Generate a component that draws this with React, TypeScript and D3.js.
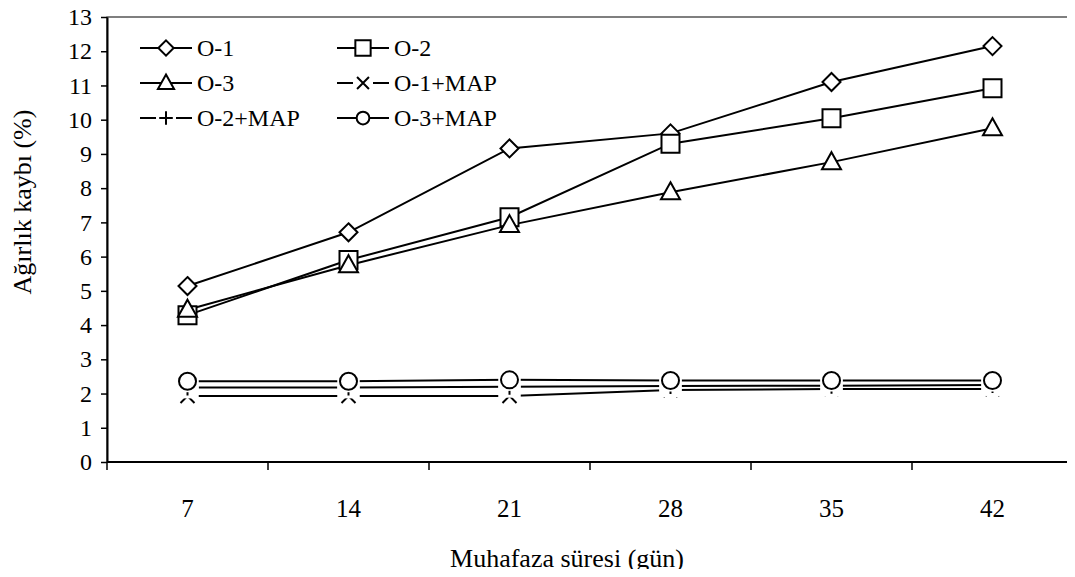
import * as d3 from 'd3';
import React, { useEffect, useRef } from 'react';

const days = ['7', '14', '21', '28', '35', '42'];
const yTicks = [0, 1, 2, 3, 4, 5, 6, 7, 8, 9, 10, 11, 12, 13];

const o1 = [5.14, 6.71, 9.16, 9.6, 11.1, 12.15];
const o2 = [4.29, 5.9, 7.15, 9.3, 10.04, 10.92];
const o3 = [4.45, 5.75, 6.92, 7.88, 8.76, 9.75];
const o1Map = [1.93, 1.93, 1.93, 2.1, 2.13, 2.13];
const o2Map = [2.18, 2.18, 2.2, 2.22, 2.23, 2.25];
const o3Map = [2.36, 2.36, 2.4, 2.38, 2.38, 2.38];

const seriesNames = ['O-1', 'O-2', 'O-3', 'O-1+MAP', 'O-2+MAP', 'O-3+MAP'];
const seriesValues = [o1, o2, o3, o1Map, o2Map, o3Map];
const seriesMarkers = ['diamond', 'square', 'triangle', 'cross', 'plus', 'circle'];

const font = "'Liberation Serif', 'Times New Roman', 'DejaVu Serif', serif";

const markerPath = (type: string) => {
  switch (type) {
    case 'diamond':
      return 'M0,-9L9,0L0,9L-9,0Z';
    case 'square':
      return 'M-9,-9H9V9H-9Z';
    case 'triangle':
      return 'M0,-10L9.5,7L-9.5,7Z';
    case 'cross':
      return 'M-7,-7L7,7M7,-7L-7,7';
    case 'plus':
      return 'M-8,0H8M0,-8V8';
    default:
      return 'M8.5,0A8.5,8.5,0,1,1,-8.5,0A8.5,8.5,0,1,1,8.5,0Z';
  }
};

const Chart = ({ width, height }: { width: number; height: number }) => {
  const svgRef = useRef(null);

  useEffect(() => {
    const svg = d3.select(svgRef.current);
    svg.selectAll('*').remove();

    const left = 107;
    const right = 1073;
    const top = 17;
    const bottom = 462;

    const x = d3.scaleBand().domain(days).range([left, right]).padding(0);
    const y = d3.scaleLinear().domain([0, 13]).range([bottom, top]);

    // thin frame round the plot area
    svg
      .append('rect')
      .attr('x', left)
      .attr('y', top)
      .attr('width', right - left)
      .attr('height', bottom - top)
      .attr('fill', 'none')
      .attr('stroke', '#000')
      .attr('stroke-width', 1);

    // y axis
    const yAxis = svg
      .append('g')
      .attr('transform', `translate(${left},0)`)
      .call(d3.axisLeft(y).tickValues(yTicks).tickSize(6).tickSizeOuter(0).tickPadding(9));
    yAxis.select('.domain').attr('stroke', '#000').attr('stroke-width', 2);
    yAxis.selectAll('line').attr('stroke', '#000').attr('stroke-width', 1.5);
    yAxis.selectAll('text').style('font-family', font).style('font-size', '24px').attr('fill', '#000');

    // x axis, ticks between categories
    const xg = svg.append('g');
    xg.append('line')
      .attr('x1', left)
      .attr('x2', 1075)
      .attr('y1', bottom)
      .attr('y2', bottom)
      .attr('stroke', '#000')
      .attr('stroke-width', 2);
    const bounds = days.map((d) => x(d) as number).concat([right]);
    xg.selectAll('line.tick')
      .data(bounds)
      .enter()
      .append('line')
      .attr('class', 'tick')
      .attr('x1', (d) => d)
      .attr('x2', (d) => d)
      .attr('y1', bottom)
      .attr('y2', bottom + 8)
      .attr('stroke', '#000')
      .attr('stroke-width', 1.5);
    xg.selectAll('text')
      .data(days)
      .enter()
      .append('text')
      .attr('x', (d) => (x(d) as number) + x.bandwidth() / 2)
      .attr('y', 517)
      .attr('text-anchor', 'middle')
      .style('font-family', font)
      .style('font-size', '25px')
      .text((d) => d);

    // axis titles
    svg
      .append('text')
      .attr('x', 567)
      .attr('y', 567)
      .attr('text-anchor', 'middle')
      .style('font-family', font)
      .style('font-size', '26px')
      .text('Muhafaza süresi (gün)');
    svg
      .append('text')
      .attr('transform', 'translate(31,202) rotate(-90)')
      .attr('text-anchor', 'middle')
      .style('font-family', font)
      .style('font-size', '26px')
      .text('Ağırlık kaybı (%)');

    const cx = (i: number) => (x(days[i]) as number) + x.bandwidth() / 2;

    const line = d3
      .line<number>()
      .x((d, i) => cx(i))
      .y((d) => y(d));

    // lines
    seriesValues.forEach((vals) => {
      svg
        .append('path')
        .datum(vals)
        .attr('d', line)
        .attr('fill', 'none')
        .attr('stroke', '#000')
        .attr('stroke-width', 2);
    });

    // markers (MAP series get a white box behind them, like Excel)
    seriesValues.forEach((vals, s) => {
      const type = seriesMarkers[s];
      const g = svg.append('g');
      const pts = g
        .selectAll('g')
        .data(vals)
        .enter()
        .append('g')
        .attr('transform', (d, i) => `translate(${cx(i)},${y(d)})`);
      if (s >= 3) {
        pts
          .append('rect')
          .attr('x', -11)
          .attr('y', -11)
          .attr('width', 22)
          .attr('height', 22)
          .attr('fill', '#fff');
      }
      pts
        .append('path')
        .attr('d', markerPath(type))
        .attr('fill', '#fff')
        .attr('stroke', '#000')
        .attr('stroke-width', 2);
    });

    // legend
    const legend = svg.append('g');
    const cols = [140, 337];
    const rows = [48, 83, 118];
    seriesNames.forEach((name, s) => {
      const lx = cols[s % 2];
      const ly = rows[Math.floor(s / 2)];
      const type = seriesMarkers[s];
      const item = legend.append('g').attr('transform', `translate(${lx},${ly})`);
      if (type === 'cross' || type === 'plus') {
        item.append('line').attr('x1', 0).attr('x2', 16).attr('stroke', '#000').attr('stroke-width', 2);
        item.append('line').attr('x1', 36).attr('x2', 52).attr('stroke', '#000').attr('stroke-width', 2);
      } else {
        item.append('line').attr('x1', 0).attr('x2', 52).attr('stroke', '#000').attr('stroke-width', 2);
      }
      const scale = type === 'circle' ? 0.75 : 0.85;
      item
        .append('path')
        .attr('transform', `translate(26,0) scale(${scale})`)
        .attr('d', markerPath(type))
        .attr('fill', '#fff')
        .attr('stroke', '#000')
        .attr('stroke-width', 2 / scale);
      item
        .append('text')
        .attr('x', 57)
        .attr('y', 8)
        .style('font-family', font)
        .style('font-size', '24px')
        .text(name);
    });
  }, [width, height]);

  return <svg ref={svgRef} width={width} height={height} style={{ display: 'block' }} />;
};

export default function App() {
  return (
    <div style={{ margin: -8 }}>
      <Chart width={1075} height={577} />
    </div>
  );
}
